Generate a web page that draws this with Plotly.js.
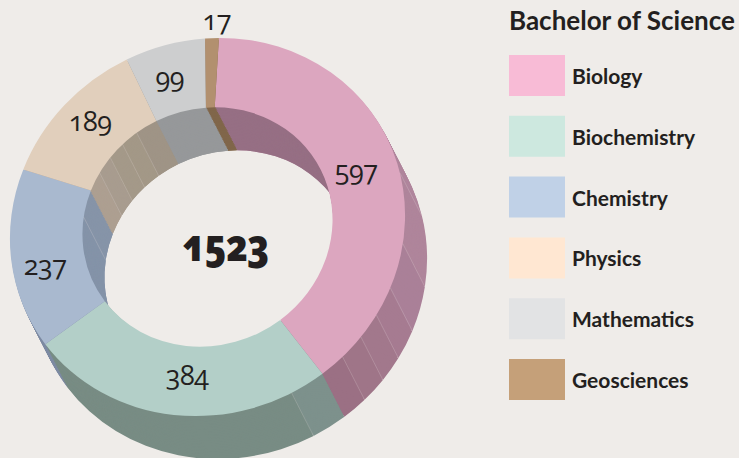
<!DOCTYPE html>
<html><head><meta charset="utf-8">
<script src="https://cdn.plot.ly/plotly-3.0.1.min.js"></script>
<style>
html,body{margin:0;padding:0;width:739px;height:458px;overflow:hidden;background:#efece9}
#chart{width:739px;height:520px}
.pielayer{transform-origin:0 0;transform:matrix(0.98498,-0.02936,-0.02936,0.94262,0,0)}
.annotation-text{font-feature-settings:'onum' 1}
.annotation[data-index="0"] text,.annotation[data-index="1"] text,.annotation[data-index="2"] text,
.annotation[data-index="3"] text,.annotation[data-index="4"] text,.annotation[data-index="5"] text{letter-spacing:-0.5px;font-stretch:90%}
.annotation[data-index="6"] text{letter-spacing:-1px;font-stretch:75%}
</style></head><body><div id="chart"></div>
<script>
const title = 'Bachelor of Science';
const total = '1523';
const categories = ['Biology','Biochemistry','Chemistry','Physics','Mathematics','Geosciences'];
const values = [597,384,237,189,99,17];
const topColors = ['#dca6bf','#b3cfc8','#a9b9cf','#e1cfbc','#cdcecf','#b2906f'];
const legendColors = ['#f8bbd6','#cde8df','#c0d1e7','#ffe7d2','#e2e3e4','#c5a079'];
// facets of the extruded wall, in the same units as the values
const wallValues = [311,92,58,38,33,33,32, 44,340, 182,55, 39,36,35,35,44, 99, 17];
const outerWall = ['#b0869d','#af859b','#aa8098','#a67b91','#a2788c','#9f7588','#9b7084',
                   '#7d918c','#788c84','#7d8aa2','#7d8aa2',
                   '#ad9f91','#a89c8f','#a49989','#a39887','#9f9486','#96989a','#80664a'];
const innerWall = ['#966f84','#966f84','#966f84','#966f84','#966f84','#966f84','#966f84',
                   '#7a8f88','#7a8f88','#8493a8','#8694a8',
                   '#ad9f91','#a89c8f','#a49989','#a39887','#9f9486','#96989a','#80664a'];
const outerSeams = [1,2,3,4,5,6,8];   // facet boundaries drawn as thin lines on the outer wall
const innerSeams = [10,12,13,14,15];  // and on the inner wall
const labelX = [356,187,45,90,169,216];
const labelY = [170,374,264,120,76,20];

const W=739,H=520;
const Ta=0.98498,Tb=-0.02936,Td=0.94262,det=Ta*Td-Tb*Tb;   // squash of the ring along the extrusion direction
const imgCx=207.5,imgCy=227,ox=22,oy=43;
const inv=(x,y)=>[(Td*x-Tb*y)/det,(-Tb*x+Ta*y)/det];
const [cx,cy]=inv(imgCx,imgCy), [dx,dy]=inv(ox,oy);
const R=200.5,r=126.9,ROT=1.6;
const FONT='"Open Sans", sans-serif', FB='Lato, sans-serif';
const sum=wallValues.reduce((a,b)=>a+b,0);
function dom(x,y,rad){return {x:[(x-rad)/W,(x+rad)/W],y:[1-(y+rad)/H,1-(y-rad)/H]};}
function pie(vals,labels,x,y,outer,colors){
  return {type:'pie',labels:labels,values:vals,sort:false,direction:'clockwise',
    rotation:ROT,hole:r/outer,domain:dom(x,y,outer),marker:{colors:colors,line:{width:0}},
    textinfo:'none',hoverinfo:'skip',showlegend:false};
}
const wallLabels=wallValues.map((v,i)=>'f'+i);
const data=[];
const N=28;
for(let k=N;k>=1;k--) data.push(pie(wallValues,wallLabels,cx+dx*k/N,cy+dy*k/N,R,outerWall));
for(let k=N;k>=1;k--) data.push(pie(wallValues,wallLabels,cx+dx*k/N,cy+dy*k/N,R-55,innerWall));
data.push(pie(values,categories,cx,cy,R,topColors));

const py=y=>1-y/H, px=x=>x/W;
const shapes=[],ann=[];
function seam(idx,rad){
  let c=0; for(let i=0;i<idx;i++) c+=wallValues[i];
  const a=(ROT+c/sum*360)*Math.PI/180;
  const u=rad*Math.sin(a), v=-rad*Math.cos(a);
  const x=imgCx+Ta*u+Tb*v, y=imgCy+Tb*u+Td*v;
  shapes.push({type:'line',xref:'paper',yref:'paper',x0:px(x),y0:py(y),x1:px(x+ox),y1:py(y+oy),
    line:{color:'rgba(235,228,228,0.3)',width:0.7},layer:'above'});
}
outerSeams.forEach(i=>seam(i,R));
innerSeams.forEach(i=>seam(i,r));

values.forEach((v,i)=>{
  ann.push({x:px(labelX[i]),y:py(labelY[i]),xref:'paper',yref:'paper',text:String(v),showarrow:false,
    xanchor:'center',yanchor:'middle',font:{family:FONT,size:27,color:'#231f20'}});
});
ann.push({x:px(225),y:py(243),xref:'paper',yref:'paper',text:total,showarrow:false,
  xanchor:'center',yanchor:'middle',font:{family:FONT,size:45,weight:800,color:'#231f20'}});
ann.push({x:px(509),y:py(20),xref:'paper',yref:'paper',text:'<b>'+title+'</b>',showarrow:false,
  xanchor:'left',yanchor:'middle',xshift:-2,font:{family:FB,size:26,color:'#231f20'}});
categories.forEach((c,i)=>{
  const top=55+i*60.8;
  shapes.push({type:'rect',xref:'paper',yref:'paper',x0:px(509),x1:px(565),y0:py(top),y1:py(top+41),
    fillcolor:legendColors[i],line:{width:0},layer:'above'});
  ann.push({x:px(572),y:py(top+20.5),xref:'paper',yref:'paper',text:'<b>'+c+'</b>',showarrow:false,
    xanchor:'left',yanchor:'middle',xshift:-2,font:{family:FB,size:21,color:'#231f20'}});
});
Plotly.newPlot('chart',data,{width:W,height:H,margin:{l:0,r:0,t:0,b:0,pad:0},
  paper_bgcolor:'#efece9',plot_bgcolor:'#efece9',shapes:shapes,annotations:ann,showlegend:false},
  {displayModeBar:false,staticPlot:true});
</script></body></html>
